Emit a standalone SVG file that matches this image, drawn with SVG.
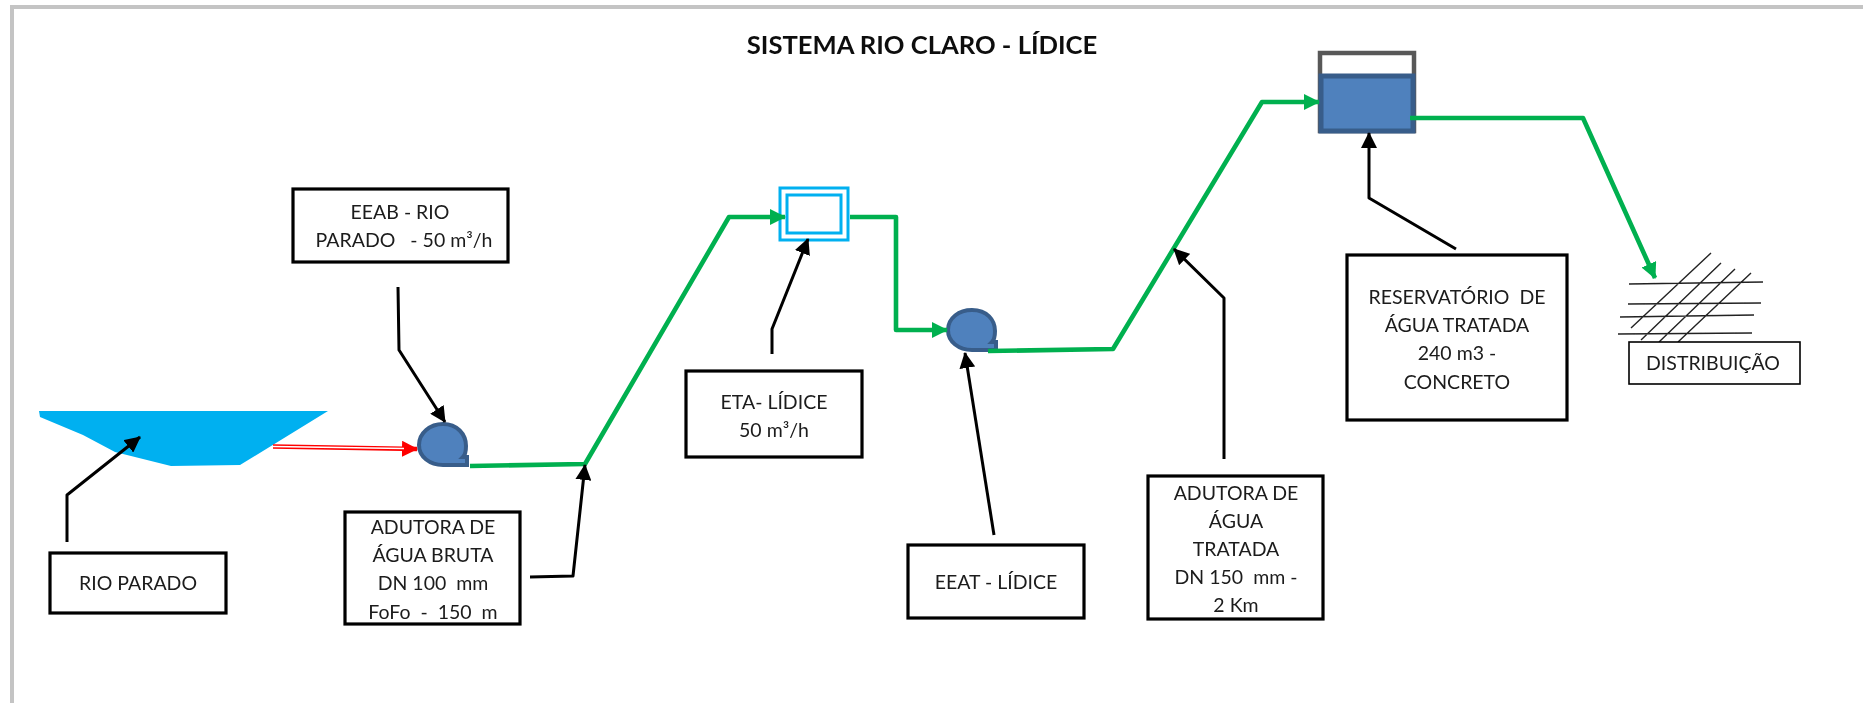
<svg xmlns="http://www.w3.org/2000/svg" width="1863" height="703" viewBox="0 0 1863 703">
<style>
text{font-family:"Lato","Liberation Sans",sans-serif;font-size:19.5px;fill:#1a1a1a;text-anchor:middle;dominant-baseline:central;white-space:pre}
.title{font-size:25.6px;font-weight:700;fill:#111}
.box{fill:#fff;stroke:#000;stroke-width:3.2}
.thin{stroke-width:1.6}
.k{fill:none;stroke:#000;stroke-width:3;stroke-linejoin:round}
.g{fill:none;stroke:#00b050;stroke-width:4.6;stroke-linejoin:round}
.pump{fill:#4f81bd;stroke:#385d8a;stroke-width:4}
.net{stroke:#222;stroke-width:1.4;fill:none}
</style>
<defs>
<filter id="soft" filterUnits="userSpaceOnUse" x="0" y="0" width="1863" height="703"><feGaussianBlur stdDeviation="0.45"/></filter>
<marker id="ak" markerUnits="userSpaceOnUse" markerWidth="18" markerHeight="16" refX="15" refY="8" orient="auto"><path d="M0 0L16 8L0 16z" fill="#000"/></marker>
<marker id="ag" markerUnits="userSpaceOnUse" markerWidth="18" markerHeight="18" refX="15" refY="8" orient="auto"><path d="M0 0L16 8L0 16z" fill="#00b050"/></marker>
<marker id="ar" markerUnits="userSpaceOnUse" markerWidth="18" markerHeight="18" refX="15" refY="8" orient="auto"><path d="M0 0L16 8L0 16z" fill="#f00"/></marker>
</defs>
<rect width="1863" height="703" fill="#fff"/>
<g filter="url(#soft)">
<path d="M12 703V7H1863" fill="none" stroke="#c4c4c4" stroke-width="4"/>
<text class="title" x="922" y="43.500">SISTEMA RIO CLARO - LÍDICE</text>

<g id="rio"><path d="M39 411H328L240 465L171 466L115 452L83 435L40 417z" fill="#00b0f0"/></g>
<g id="bomba-eeab"><path class="pump" d="M443 424C457 424 466 434 466 446C466 451 465 455 463 457H467V465H443C430 465 419 457 419 445C419 433 430 424 443 424z"/></g>
<g id="eta"><rect x="780" y="188" width="68" height="52" fill="#fff" stroke="#00b0f0" stroke-width="3"/><rect x="787" y="195" width="54" height="38" fill="#fff" stroke="#00b0f0" stroke-width="3"/></g>
<g id="bomba-eeat"><path class="pump" d="M972 310C987 310 995 320 995 331C995 337 994 340 992 342H996V350H972C959 350 948 342 948 330C948 318 959 310 972 310z"/></g>
<g id="reservatorio"><rect x="1320" y="53" width="94" height="78" fill="#fff" stroke="#595959" stroke-width="4.500"/><rect x="1321" y="76" width="92" height="55" fill="#4f81bd" stroke="#385d8a" stroke-width="5"/></g>
<g id="rede">
<path class="net" d="M1629 284L1763 282M1628 304L1761 303M1620 317L1754 315M1618 334L1752 333M1631 328L1711 253M1641 340L1721 263M1659 342L1735 269M1678 342L1751 273"/>
</g>

<g id="connectors">
<path d="M273 446.500L417 449" fill="none" stroke="#f00" stroke-width="4.500" marker-end="url(#ar)"/>
<path d="M273 446.500L404 448.500" fill="none" stroke="#fff" stroke-width="1.300"/>
<path class="g" d="M470 466L585 464L729 217H785" marker-end="url(#ag)"/>
<path class="g" d="M850 217H896V330H947" marker-end="url(#ag)"/>
<path class="g" d="M988 351L1113 349L1262 102H1319" marker-end="url(#ag)"/>
<path class="g" d="M1410 118H1583L1655 278" marker-end="url(#ag)"/>
<path class="k" d="M67 542V495L140 437" marker-end="url(#ak)"/>
<path class="k" d="M398 287L399 350L445 422" marker-end="url(#ak)"/>
<path class="k" d="M530 577L573 576L585 465" marker-end="url(#ak)"/>
<path class="k" d="M772 354V329L808 239" marker-end="url(#ak)"/>
<path class="k" d="M994 535L965 353" marker-end="url(#ak)"/>
<path class="k" d="M1224 459V298L1174 249" marker-end="url(#ak)"/>
<path class="k" d="M1456 249L1369 198V133" marker-end="url(#ak)"/>
</g>

<g id="n-eeab"><rect class="box" x="293" y="189" width="215" height="73"/><text x="400" y="211">EEAB - RIO</text><text x="404" y="239">PARADO   - 50 m³/h</text></g>
<g id="n-rio"><rect class="box" x="50" y="553" width="176" height="60"/><text x="138" y="582">RIO PARADO</text></g>
<g id="n-aab"><rect class="box" x="345" y="512" width="175" height="112"/><text x="433" y="526">ADUTORA DE</text><text x="433" y="554">ÁGUA BRUTA</text><text x="433" y="582">DN 100  mm</text><text x="433" y="611">FoFo  -  150  m</text></g>
<g id="n-eta"><rect class="box" x="686" y="371" width="176" height="86"/><text x="774" y="401">ETA- LÍDICE</text><text x="774" y="429">50 m³/h</text></g>
<g id="n-eeat"><rect class="box" x="908" y="545" width="176" height="73"/><text x="996" y="581">EEAT - LÍDICE</text></g>
<g id="n-aat"><rect class="box" x="1148" y="476" width="175" height="143"/><text x="1236" y="492">ADUTORA DE</text><text x="1236" y="520">ÁGUA</text><text x="1236" y="548">TRATADA</text><text x="1236" y="576">DN 150  mm -</text><text x="1236" y="604">2 Km</text></g>
<g id="n-res"><rect class="box" x="1347" y="255" width="220" height="165"/><text x="1457" y="296">RESERVATÓRIO  DE</text><text x="1457" y="324">ÁGUA TRATADA</text><text x="1457" y="352">240 m3 -</text><text x="1457" y="381">CONCRETO</text></g>
<g id="n-dist"><rect class="box thin" x="1629" y="342" width="171" height="42"/><text x="1713" y="362">DISTRIBUIÇÃO</text></g>
</g>
</svg>
